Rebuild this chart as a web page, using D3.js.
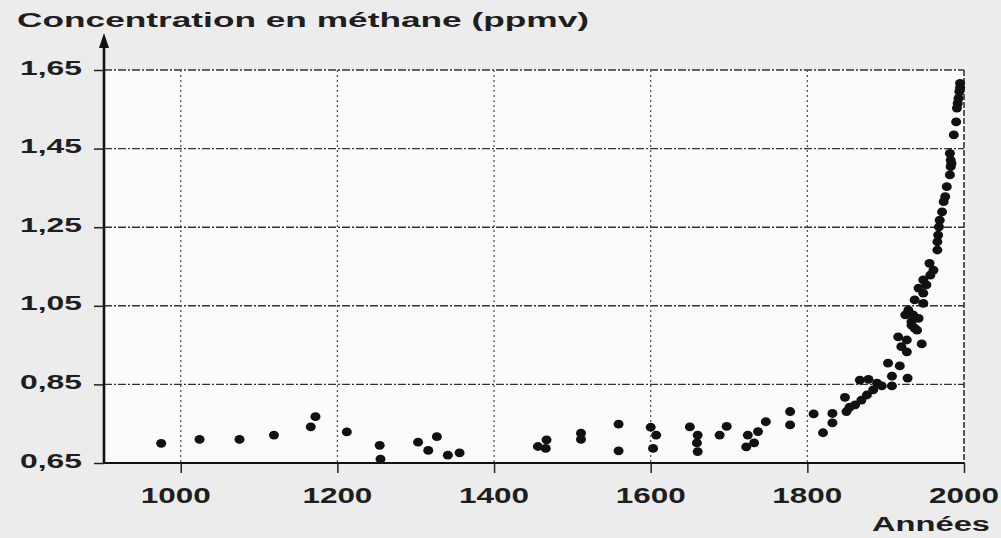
<!DOCTYPE html>
<html>
<head>
<meta charset="utf-8">
<script src="https://cdn.jsdelivr.net/npm/d3@7"></script>
<style>
  html, body { margin: 0; padding: 0; background: #ececec; }
  svg { display: block; }
  text { font-family: "Liberation Sans", Arial, Helvetica, sans-serif; font-weight: bold; fill: #1e1e1e; }
</style>
</head>
<body>
<script>
// ---- data ----
const years = [975, 1024, 1075, 1119, 1166, 1172, 1212, 1254, 1255, 1303, 1316, 1327, 1341, 1356,
  1456, 1466, 1467, 1511, 1511, 1559, 1559, 1600, 1603, 1607, 1650, 1659, 1660, 1660, 1688, 1697,
  1722, 1724, 1732, 1737, 1747, 1778, 1778, 1808, 1820, 1832, 1832, 1848, 1850, 1854, 1861, 1867,
  1869, 1876, 1878, 1884, 1889, 1895, 1903, 1908, 1908, 1918, 1916, 1920, 1927, 1927, 1928, 1925,
  1929, 1933, 1933, 1935, 1937, 1937, 1940, 1942, 1942, 1946, 1948, 1948, 1948, 1952, 1956, 1957,
  1961, 1966, 1966, 1967, 1968, 1969, 1972, 1974, 1976, 1978, 1982, 1983, 1984, 1983, 1982, 1987,
  1990, 1991, 1992, 1993, 1994, 1995, 1995];
const methane = [0.700, 0.710, 0.710, 0.721, 0.742, 0.768, 0.729, 0.695, 0.660, 0.703, 0.682, 0.717, 0.670, 0.676,
  0.692, 0.687, 0.709, 0.726, 0.710, 0.749, 0.681, 0.741, 0.687, 0.721, 0.742, 0.701, 0.721, 0.679, 0.721, 0.743,
  0.691, 0.721, 0.701, 0.730, 0.755, 0.781, 0.747, 0.775, 0.727, 0.776, 0.752, 0.817, 0.781, 0.792, 0.798, 0.861,
  0.810, 0.823, 0.863, 0.836, 0.853, 0.846, 0.904, 0.871, 0.846, 0.897, 0.971, 0.946, 0.963, 0.933, 0.866, 1.027,
  1.039, 1.010, 1.001, 1.027, 0.993, 1.065, 0.988, 1.018, 1.095, 0.953, 1.056, 1.082, 1.116, 1.103, 1.158, 1.128,
  1.141, 1.192, 1.213, 1.230, 1.251, 1.268, 1.289, 1.315, 1.328, 1.353, 1.383, 1.404, 1.412, 1.421, 1.438, 1.485,
  1.518, 1.553, 1.565, 1.578, 1.595, 1.605, 1.616];
const xTicks = [1000, 1200, 1400, 1600, 1800, 2000];
const yTicks = [0.65, 0.85, 1.05, 1.25, 1.45, 1.65];
const yTickLabels = ["0,65", "0,85", "1,05", "1,25", "1,45", "1,65"];
const titleText = "Concentration en méthane (ppmv)";
const xTitleText = "Années";

// ---- drawing ----
const W = 1001, H = 538;
const svg = d3.select("body").append("svg").attr("width", W).attr("height", H);

const x = d3.scaleLinear().domain([902, 2000]).range([104, 964]);
const y = d3.scaleLinear().domain([0.65, 1.65]).range([463, 70]);

// plot background (whiter than the page)
svg.append("rect")
  .attr("x", x(902)).attr("y", y(1.65))
  .attr("width", x(2000) - x(902)).attr("height", y(0.65) - y(1.65))
  .attr("fill", "#fbfbfb");

// horizontal grid
svg.append("g").selectAll("line").data(yTicks.filter(d => d > 0.65)).join("line")
  .attr("x1", x(902)).attr("x2", x(2000))
  .attr("y1", d => y(d)).attr("y2", d => y(d))
  .attr("stroke", "#333").attr("stroke-width", 1.4)
  .attr("stroke-dasharray", "8,2,2,2");

// vertical grid
svg.append("g").selectAll("line").data(xTicks).join("line")
  .attr("x1", d => x(d)).attr("x2", d => x(d))
  .attr("y1", y(1.65)).attr("y2", y(0.65))
  .attr("stroke", d => d === 2000 ? "#333" : "#555")
  .attr("stroke-width", d => d === 2000 ? 1.6 : 1.3)
  .attr("stroke-dasharray", d => d === 2000 ? "6,2" : "2,3");

// y axis with ticks on left
const yAxis = d3.axisLeft(y).tickValues(yTicks).tickSize(10).tickFormat("");
const gy = svg.append("g").attr("transform", `translate(${x(902)},0)`).call(yAxis);
gy.select(".domain").remove();
gy.selectAll(".tick line").attr("stroke", "#222").attr("stroke-width", 1.5);

// x axis with ticks below
const xAxis = d3.axisBottom(x).tickValues(xTicks).tickSize(10).tickFormat("");
const gx = svg.append("g").attr("transform", `translate(0,${y(0.65)})`).call(xAxis);
gx.select(".domain").remove();
gx.selectAll(".tick line").attr("stroke", "#222").attr("stroke-width", 1.5);

// axis lines
svg.append("line")
  .attr("x1", x(902)).attr("x2", x(2000)).attr("y1", y(0.65)).attr("y2", y(0.65))
  .attr("stroke", "#111").attr("stroke-width", 2.2);
svg.append("line")
  .attr("x1", x(902)).attr("x2", x(902)).attr("y1", y(0.65)).attr("y2", 44)
  .attr("stroke", "#111").attr("stroke-width", 2.6);
svg.append("path")
  .attr("d", `M${x(902)},33 L${x(902) - 5},48 L${x(902) + 5},48 Z`)
  .attr("fill", "#111");

// y tick labels
svg.append("g").selectAll("text").data(yTicks).join("text")
  .attr("x", 82).attr("y", d => y(d) + 4.5)
  .attr("text-anchor", "end")
  .attr("font-size", 21)
  .attr("textLength", 62).attr("lengthAdjust", "spacingAndGlyphs")
  .text((d, i) => yTickLabels[i]);

// x tick labels
svg.append("g").selectAll("text").data(xTicks).join("text")
  .attr("x", d => x(d) - (d === 1000 ? 5 : 0)).attr("y", 503)
  .attr("text-anchor", "middle")
  .attr("font-size", 22)
  .attr("textLength", 70).attr("lengthAdjust", "spacingAndGlyphs")
  .text(d => String(d));

// titles
svg.append("text")
  .attr("x", 17).attr("y", 27)
  .attr("font-size", 21)
  .attr("textLength", 572).attr("lengthAdjust", "spacingAndGlyphs")
  .text(titleText);
svg.append("text")
  .attr("x", 990).attr("y", 531)
  .attr("text-anchor", "end")
  .attr("font-size", 20)
  .attr("textLength", 118).attr("lengthAdjust", "spacingAndGlyphs")
  .text(xTitleText);

// points
svg.append("g").selectAll("ellipse").data(years.map((yr, i) => [yr, methane[i]])).join("ellipse")
  .attr("cx", d => x(d[0])).attr("cy", d => y(d[1]))
  .attr("rx", 5).attr("ry", 4.4)
  .attr("fill", "#111");
</script>
</body>
</html>
